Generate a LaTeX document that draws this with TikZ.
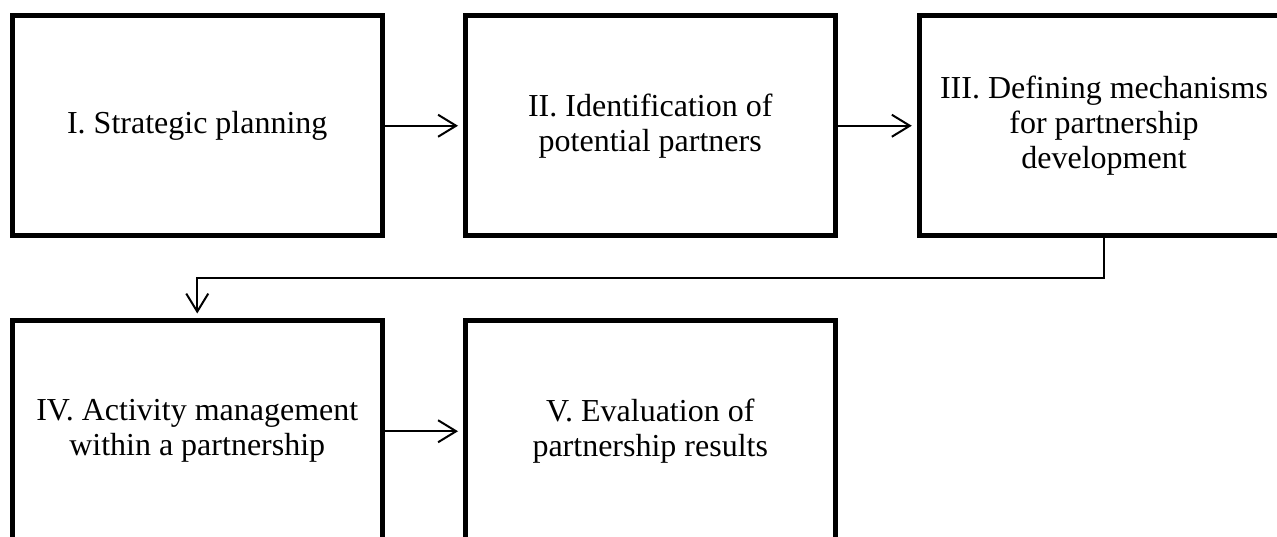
\documentclass[tikz,border=0pt]{standalone}
\usepackage{fontspec}
\setmainfont{Liberation Serif}
\usetikzlibrary{arrows.meta}
\begin{document}
\begin{tikzpicture}[x=1pt,y=-1pt,
  stage/.style={draw=black, line width=5pt, minimum width=369.5pt, minimum height=220.5pt,
    inner sep=0pt, align=center, font=\fontsize{32}{35}\selectfont},
  arr/.style={line width=2pt, -{Straight Barb[length=18pt,width=22pt,line width=2pt]}, shorten >=5pt}]
\clip (0,0) rectangle (1277,537);
\useasboundingbox (0,0) rectangle (1277,537);
\node[stage] (I) at (197.25,125.75) {I. Strategic planning};
\node[stage] (II) at (650.25,125.75) {II. Identification of\\potential partners};
\node[stage] (III) at (1104,125.75) {III. Defining mechanisms\\for partnership\\development};
\node[stage] (IV) at (197.25,431.25) {IV. Activity management\\within a partnership};
\node[stage] (V) at (650.25,431.25) {V. Evaluation of\\partnership results};
\coordinate (mid) at (0,278);
\draw[arr] (I) -- (II);
\draw[arr] (II) -- (III);
\draw[arr] (IV) -- (V);
\draw[arr] (III.south) -- (III.south |- mid) -| (IV.north);
\end{tikzpicture}
\end{document}
